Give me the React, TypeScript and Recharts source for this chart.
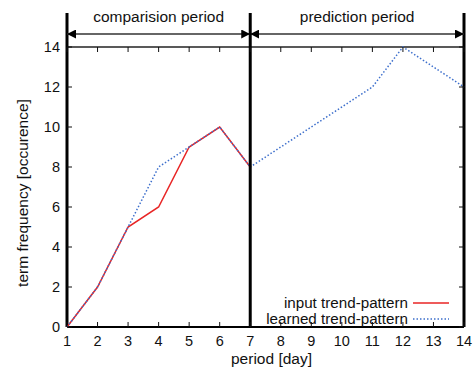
import {
  LineChart,
  Line,
  XAxis,
  YAxis,
  ReferenceLine,
  Legend,
} from 'recharts'

const days = [1, 2, 3, 4, 5, 6, 7, 8, 9, 10, 11, 12, 13, 14]
const inputTrend = [0, 2, 5, 6, 9, 10, 8]
const learnedTrend = [0, 2, 5, 8, 9, 10, 8, 9, 10, 11, 12, 14, 13, 12]
const yTicks = [0, 2, 4, 6, 8, 10, 12, 14]
const periods = [
  { label: 'comparision period', from: 1, to: 7 },
  { label: 'prediction period', from: 7, to: 14 },
]

const data = days.map((day, i) => ({
  day,
  input: i < inputTrend.length ? inputTrend[i] : null,
  learned: learnedTrend[i],
}))

const FONT = '"Liberation Sans", Arial, sans-serif'
const RED = '#e82525'
const BLUE = '#3d6fcc'
// header sits above the plot, in y-units of the left axis
const HEADER_TOP = 15.7
const ARROW_LEVEL = 14.65

const W = 473
const H = 369
const MARGIN = { top: 47, right: 9, left: 7, bottom: 0 }
const X_AXIS_H = 42
const Y_AXIS_W = 60
const X_TICK_GAP = 9
const Y_TICK_GAP = 7
const PLOT_TOP = MARGIN.top
const PLOT_BOTTOM = H - MARGIN.bottom - X_AXIS_H
const PLOT_LEFT = MARGIN.left + Y_AXIS_W
const PLOT_RIGHT = W - MARGIN.right
const TICK_LEN = 5

const TICK_SIZE = 14.5
const LABEL_SIZE = 15.5

// label plus inward tick marks on the bottom and top edges
function DayTick(p: any) {
  return (
    <g>
      <line x1={p.x} x2={p.x} y1={PLOT_BOTTOM} y2={PLOT_BOTTOM - TICK_LEN} stroke="#111" />
      <line x1={p.x} x2={p.x} y1={PLOT_TOP} y2={PLOT_TOP + TICK_LEN} stroke="#111" />
      <text x={p.x} y={p.y} dy="0.71em" textAnchor="middle" fill="#111" fontSize={TICK_SIZE}>
        {p.payload.value}
      </text>
    </g>
  )
}

// label plus inward tick marks on the left and right edges
function FreqTick(p: any) {
  return (
    <g>
      <line x1={PLOT_LEFT} x2={PLOT_LEFT + TICK_LEN} y1={p.y} y2={p.y} stroke="#111" />
      <line x1={PLOT_RIGHT} x2={PLOT_RIGHT - TICK_LEN} y1={p.y} y2={p.y} stroke="#111" />
      <text x={p.x} y={p.y} dy="0.36em" textAnchor="end" fill="#111" fontSize={TICK_SIZE}>
        {p.payload.value}
      </text>
    </g>
  )
}

function LegendBox(props: any) {
  const items = (props.payload || []).filter((it: any) => it.type !== 'none')
  return (
    <div style={{ fontFamily: FONT, fontSize: 15.2, color: '#111' }}>
      {items.map((it: any) => (
        <div
          key={it.value}
          style={{ display: 'flex', justifyContent: 'flex-end', alignItems: 'center', height: 16 }}
        >
          <span style={{ marginRight: 5, lineHeight: '16px' }}>{it.value}</span>
          <svg width={36} height={6}>
            <line
              x1={0}
              x2={36}
              y1={3}
              y2={3}
              stroke={it.color}
              strokeWidth={1.5}
              strokeDasharray={it.payload?.strokeDasharray}
            />
          </svg>
        </div>
      ))}
    </div>
  )
}

export default function App() {
  return (
    <div style={{ position: 'absolute', left: 0, top: 0, fontFamily: FONT, background: '#fff' }}>
      <svg width={0} height={0} style={{ position: 'absolute' }}>
        <defs>
          <marker
            id="arrowHead"
            viewBox="0 0 9 9"
            refX={9}
            refY={4.5}
            markerWidth={9}
            markerHeight={9}
            markerUnits="userSpaceOnUse"
            orient="auto-start-reverse"
          >
            <path d="M0,0 L9,4.5 L0,9 z" fill="#000" />
          </marker>
        </defs>
      </svg>
      <LineChart width={W} height={H} data={data} margin={MARGIN} style={{ fontFamily: FONT }}>
        <XAxis
          dataKey="day"
          type="number"
          domain={[1, 14]}
          ticks={days}
          interval={0}
          height={X_AXIS_H}
          tick={DayTick}
          tickLine={false}
          tickSize={0}
          tickMargin={X_TICK_GAP}
          axisLine={false}
          label={{ value: 'period [day]', position: 'insideBottom', offset: 5, dx: 6, fill: '#111', fontSize: LABEL_SIZE }}
        />
        <YAxis
          type="number"
          domain={[0, 14]}
          ticks={yTicks}
          interval={0}
          width={Y_AXIS_W}
          tick={FreqTick}
          tickLine={false}
          tickSize={0}
          tickMargin={Y_TICK_GAP}
          axisLine={false}
          label={{ value: 'term frequency [occurence]', angle: -90, position: 'center', dx: -15, dy: 6, fill: '#111', fontSize: LABEL_SIZE }}
        />

        {/* plot frame */}
        <ReferenceLine y={14} ifOverflow="visible" stroke="#222" strokeWidth={1.5} />
        <ReferenceLine y={0} ifOverflow="visible" stroke="#000" strokeWidth={2} />
        <ReferenceLine
          segment={[{ x: 1, y: 0 }, { x: 1, y: HEADER_TOP }]}
          ifOverflow="visible"
          stroke="#000"
          strokeWidth={3}
        />
        <ReferenceLine
          segment={[{ x: 14, y: 0 }, { x: 14, y: HEADER_TOP }]}
          ifOverflow="visible"
          stroke="#000"
          strokeWidth={3}
        />

        {/* period header: double arrows with titles */}
        {periods.map((p) => (
          <ReferenceLine
            key={p.label}
            segment={[{ x: p.from, y: ARROW_LEVEL }, { x: p.to, y: ARROW_LEVEL }]}
            ifOverflow="visible"
            stroke="#333"
            strokeWidth={1.5}
            markerStart="url(#arrowHead)"
            markerEnd="url(#arrowHead)"
            label={{ value: p.label, position: 'top', offset: 12, fill: '#111', fontSize: LABEL_SIZE }}
          />
        ))}

        <Line
          dataKey="input"
          name="input trend-pattern"
          type="linear"
          stroke={RED}
          strokeWidth={1.5}
          dot={false}
          isAnimationActive={false}
        />
        <Line
          dataKey="learned"
          name="learned trend-pattern"
          type="linear"
          stroke={BLUE}
          strokeWidth={1.5}
          strokeDasharray="1.5 2"
          dot={false}
          isAnimationActive={false}
        />
        <ReferenceLine
          segment={[{ x: 7, y: 0 }, { x: 7, y: HEADER_TOP }]}
          ifOverflow="visible"
          stroke="#000"
          strokeWidth={3}
        />
        <Legend
          layout="vertical"
          align="center"
          verticalAlign="middle"
          wrapperStyle={{ left: 250, top: 295, width: 199, height: 32 }}
          content={LegendBox}
        />
      </LineChart>
    </div>
  )
}
